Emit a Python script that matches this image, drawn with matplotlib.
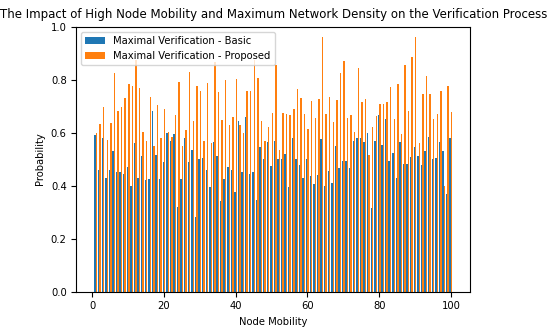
import numpy as np
import matplotlib
matplotlib.use('Agg')
import matplotlib.pyplot as plt

node_mobility = np.arange(1, 101)

basic = [0.59, 0.46, 0.58, 0.43, 0.46, 0.53, 0.45, 0.45, 0.445, 0.47,
         0.40, 0.56, 0.43, 0.51, 0.42, 0.425, 0.68, 0.515, 0.425, 0.49,
         0.60, 0.57, 0.595, 0.32, 0.425, 0.58, 0.49, 0.535, 0.28, 0.50,
         0.505, 0.46, 0.395, 0.565, 0.51, 0.34, 0.425, 0.47, 0.46, 0.375,
         0.645, 0.45, 0.66, 0.445, 0.45, 0.345, 0.545, 0.50, 0.565, 0.475,
         0.57, 0.50, 0.50, 0.52, 0.395, 0.58, 0.50, 0.478, 0.428, 0.50,
         0.438, 0.406, 0.44, 0.576, 0.40, 0.455, 0.41, 0.55, 0.465, 0.493,
         0.493, 0.465, 0.569, 0.579, 0.579, 0.563, 0.60, 0.314, 0.569, 0.667,
         0.553, 0.652, 0.493, 0.522, 0.43, 0.566, 0.48, 0.48, 0.506, 0.545,
         0.513, 0.478, 0.532, 0.582, 0.50, 0.503, 0.564, 0.532, 0.367, 0.58]

proposed = [0.597, 0.631, 0.697, 0.572, 0.638, 0.826, 0.682, 0.698, 0.73, 0.784,
            0.777, 0.874, 0.77, 0.604, 0.57, 0.735, 0.55, 0.704, 0.581, 0.689,
            0.601, 0.584, 0.667, 0.792, 0.55, 0.61, 0.83, 0.644, 0.777, 0.755,
            0.57, 0.786, 0.56, 0.868, 0.752, 0.647, 0.799, 0.629, 0.66, 0.802,
            0.629, 0.597, 0.757, 0.757, 0.872, 0.805, 0.644, 0.57, 0.62, 0.675,
            0.855, 0.535, 0.673, 0.669, 0.665, 0.69, 0.764, 0.73, 0.67, 0.613,
            0.72, 0.654, 0.726, 0.962, 0.67, 0.735, 0.64, 0.722, 0.826, 0.87,
            0.654, 0.667, 0.604, 0.845, 0.716, 0.726, 0.516, 0.62, 0.664, 0.707,
            0.707, 0.715, 0.772, 0.65, 0.785, 0.595, 0.855, 0.68, 0.887, 0.96,
            0.56, 0.746, 0.815, 0.746, 0.65, 0.669, 0.757, 0.40, 0.777, 0.677]

fig = plt.figure(figsize=(5.5, 3.28), dpi=100)
ax = fig.add_axes([0.139, 0.111, 0.716, 0.808])
ax.bar(node_mobility - 0.2, basic, 0.4, label='Maximal Verification - Basic')
ax.bar(node_mobility + 0.2, proposed, 0.4, label='Maximal Verification - Proposed')
ax.set_ylim(0, 1.0)
ax.set_title('The Impact of High Node Mobility and Maximum Network Density on the Verification Process',
             fontsize=8.5)
ax.set_xlabel('Node Mobility', fontsize=7.2)
ax.set_ylabel('Probability', fontsize=7.2)
ax.tick_params(labelsize=7.2)
ax.legend(loc='upper left', fontsize=7.2)
fig.savefig('out.png', dpi=100)
plt.close()
